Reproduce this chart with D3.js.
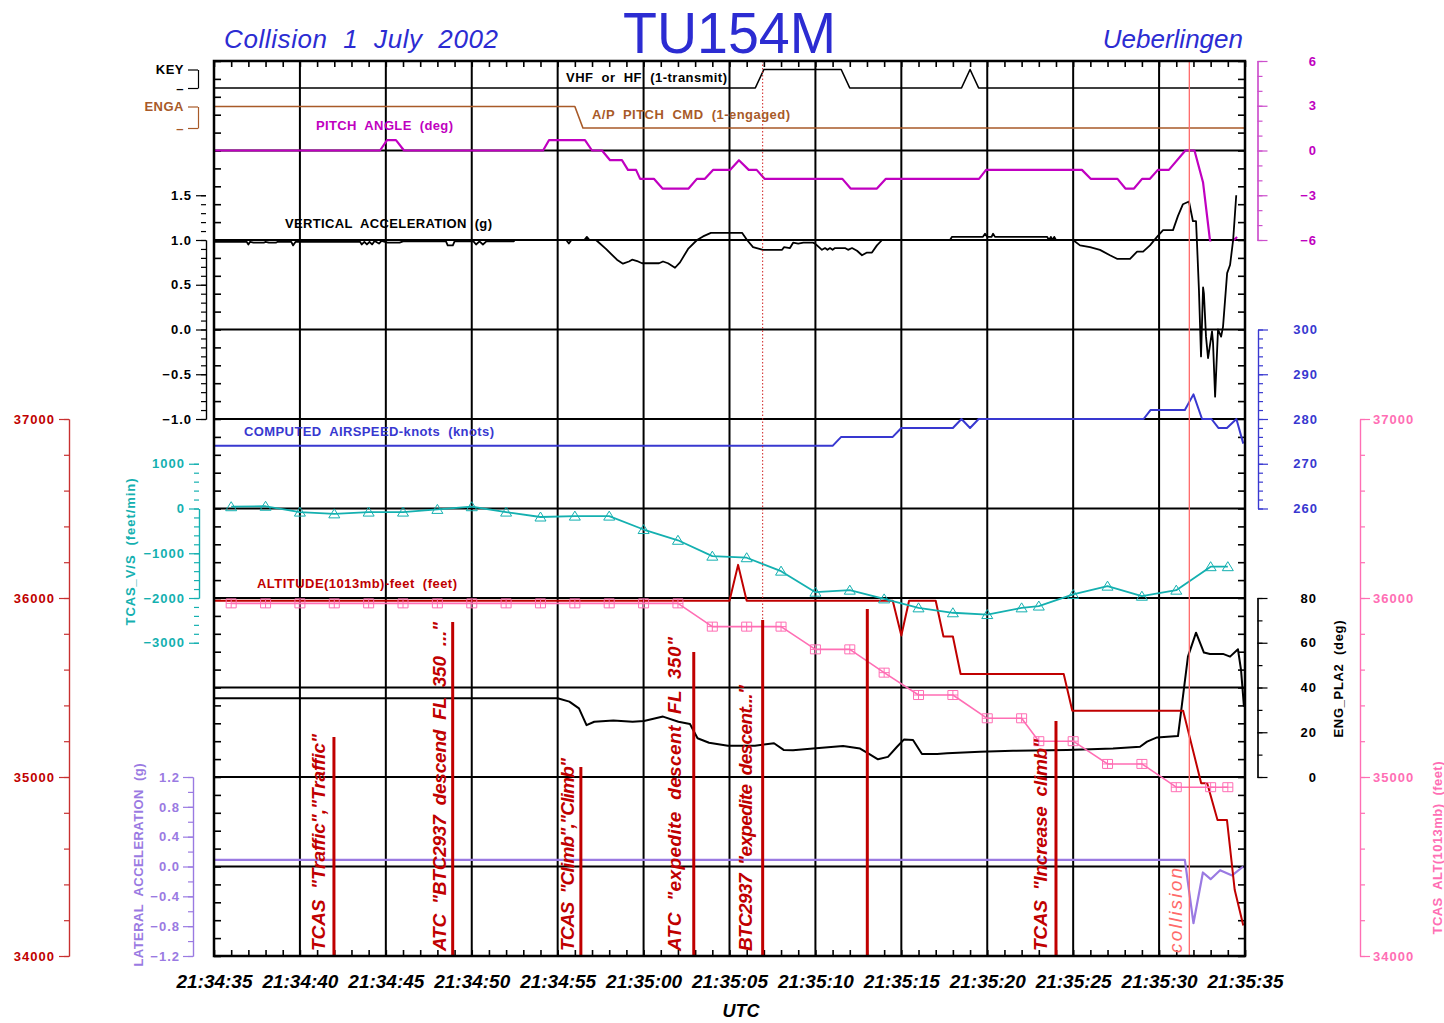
<!DOCTYPE html>
<html><head><meta charset="utf-8">
<script src="https://cdn.jsdelivr.net/npm/d3@7/dist/d3.min.js"></script>
<style>
html,body{margin:0;padding:0;background:#fff}
svg{display:block}
text{font-family:"Liberation Sans",Arial,Helvetica,sans-serif;white-space:pre}
</style></head><body>
<svg id="chart" width="1444" height="1023"></svg>
<script>
// ================= DATA =================
// time in seconds after 21:34:35 UTC
const timeTicks  = [0,5,10,15,20,25,30,35,40,45,50,55,60];
const timeLabels = ["21:34:35","21:34:40","21:34:45","21:34:50","21:34:55","21:35:00","21:35:05",
                    "21:35:10","21:35:15","21:35:20","21:35:25","21:35:30","21:35:35"];

// VHF or HF transmit (1 = transmit)
const vhf = [[0,0],[31.5,0],[32.0,1],[36.5,1],[37.0,0],[43.5,0],[44.0,1],[44.5,0],[60,0]];
// A/P pitch command (1 = engaged)
const apCmd = [[0,1],[21.0,1],[21.47,0],[60,0]];
// pitch angle (deg)
const pitch = [[0,0],[9.66,0],[10.07,0.7],[10.59,0.7],[11.06,0],[19.15,0],[19.5,0.7],[21.59,0.7],[22.0,0],
  [22.58,0],[23.05,-0.65],[23.74,-0.65],[24.09,-1.3],[24.56,-1.3],[24.8,-1.9],[25.6,-1.9],[26.1,-2.55],
  [27.62,-2.55],[28.1,-1.9],[28.57,-1.9],[29.04,-1.3],[30.03,-1.3],[30.55,-0.65],[31.12,-1.3],[31.58,-1.3],
  [32.04,-1.9],[36.57,-1.9],[37.05,-2.55],[38.58,-2.55],[39.1,-1.9],[44.52,-1.9],[44.93,-1.3],[50.51,-1.3],
  [51.02,-1.9],[52.58,-1.9],[53.04,-2.55],[53.54,-2.55],[54.01,-1.9],[54.47,-1.9],[54.93,-1.3],[55.57,-1.3],
  [56.53,0],[57.06,0],[57.56,-2.15],[57.96,-6],[58.6,-9],[59.3,-6.05],[59.54,-5.8]];
// vertical acceleration (g)
const vertAcc = [[0,0.98],[1.9,0.98],[2.0,0.95],[2.1,0.98],[2.3,0.97],[2.9,0.97],[3.0,0.98],[3.2,0.97],[3.6,0.97],
  [3.7,0.98],[4.5,0.98],[4.6,0.94],[4.75,0.98],[8.5,0.98],[8.6,0.95],[8.75,0.98],[8.9,0.95],[9.05,0.98],
  [9.2,0.95],[9.35,0.99],[9.6,0.96],[9.75,0.99],[10.1,0.97],[10.8,0.97],[11.0,0.985],[13.5,0.985],[13.6,0.94],
  [13.9,0.94],[14.0,0.985],[15.1,0.985],[15.25,0.95],[15.45,0.985],[15.65,0.95],[15.85,0.985],[17.45,0.985],
  [17.5,1.0],[20.5,1.0],[20.65,0.96],[20.8,1.0],[21.55,1.0],[21.7,1.035],[21.85,1.0],[22.23,1.0],[22.81,0.90],
  [23.45,0.78],[23.8,0.735],[24.15,0.76],[24.33,0.78],[24.68,0.76],[24.91,0.74],[25.9,0.74],[26.13,0.76],
  [26.42,0.74],[26.83,0.69],[27.12,0.75],[27.59,0.9],[28.11,1.0],[28.46,1.04],[28.92,1.08],[30.73,1.08],
  [31.02,1.0],[31.37,0.92],[31.95,0.89],[33.06,0.89],[33.17,0.92],[33.52,0.91],[33.7,0.97],[34.0,0.96],
  [34.3,0.97],[34.86,0.97],[34.98,0.96],[35.38,0.89],[35.56,0.91],[35.7,0.89],[35.85,0.91],[36.0,0.89],
  [36.14,0.91],[36.72,0.91],[36.9,0.89],[37.13,0.91],[37.42,0.88],[37.71,0.83],[38.0,0.86],[38.29,0.86],
  [38.58,0.94],[38.88,1.0],[42.83,1.0],[42.95,1.035],[44.75,1.035],[44.87,1.07],[45.0,1.035],[45.25,1.035],
  [45.34,1.07],[45.45,1.035],[48.48,1.035],[48.6,1.0],[48.7,1.035],[48.8,1.0],[48.9,1.035],[49.0,1.0],
  [49.99,1.0],[50.4,0.94],[50.98,0.92],[51.56,0.89],[52.14,0.83],[52.55,0.79],[53.31,0.79],[53.72,0.87],
  [54.07,0.87],[54.47,0.94],[54.88,1.035],[55.23,1.11],[55.81,1.11],[56.1,1.27],[56.39,1.40],[56.74,1.43],
  [56.97,1.21],[57.15,1.21],[57.21,0.95],[57.32,0.44],[57.44,-0.3],[57.56,0.47],[57.61,0.40],[57.73,-0.08],
  [57.85,-0.32],[58.08,-0.02],[58.14,-0.15],[58.26,-0.75],[58.43,0.0],[58.61,-0.08],[58.72,0.03],[58.96,0.63],
  [59.13,0.72],[59.31,1.0],[59.49,1.5]];
// computed airspeed (knots)
const airspeed = [[0,274],[36.0,274],[36.5,276],[39.5,276],[40.0,278],[43.0,278],[43.5,280],[44.0,278],
  [44.5,280],[54.1,280],[54.5,282],[56.5,282],[57.0,285.5],[57.5,280],[58.05,280],[58.45,278],[58.95,278],
  [59.5,280],[59.9,274.5]];
// TCAS samples
const tcasT   = [1,3,5,7,9,11,13,15,17,19,21,23,25,27,29,31,33,35,37,39,41,43,45,47,48,50,52,54,56,58,59];
const tcasVS  = [40,50,-80,-120,-80,-80,-20,40,-80,-190,-170,-170,-470,-710,-1065,-1100,-1400,-1870,-1825,
                 -2020,-2220,-2330,-2370,-2220,-2180,-1920,-1735,-1960,-1825,-1300,-1300];
const tcasAlt = [35970,35970,35970,35970,35970,35970,35970,35970,35970,35970,35970,35970,35970,35970,
                 35840,35840,35840,35713,35713,35583,35458,35458,35328,35328,35200,35200,35073,35073,
                 34943,34943,34943];
// altitude 1013mb (feet)
const altitude = [[0,35985],[30.0,35985],[30.5,36185],[31.0,35985],[39.5,35985],[40.0,35790],[40.45,35985],
  [42.0,35985],[42.45,35785],[43.0,35785],[43.45,35575],[49.45,35575],[49.95,35370],[56.4,35370],
  [57.45,34965],[57.8,34965],[58.4,34760],[58.95,34760],[59.4,34370],[59.9,34170]];
// engine power lever angle 2 (deg)
const engPla2 = [[0,35.2],[20.0,35.2],[20.68,33.7],[21.24,30.7],[21.68,23.2],[22.13,24.7],[23.24,25.2],
  [24.36,24.7],[25.02,25.0],[26.13,27.0],[27.03,24.7],[27.7,23.7],[28.14,17.3],[28.81,15.3],[29.91,14.0],
  [31.48,14.0],[32.59,15.1],[33.15,12.1],[33.7,12.0],[34.86,12.7],[36.61,13.9],[37.6,12.7],[38.07,10.6],
  [38.64,7.9],[39.22,9.0],[39.75,13.5],[40.16,16.8],[40.68,16.5],[41.2,10.3],[42.08,10.3],[42.66,10.6],
  [44.58,11.3],[46.5,11.7],[49.64,12.1],[52.32,12.7],[53.89,13.5],[54.3,15.8],[54.88,17.7],[56.1,18.3],
  [56.68,53.8],[57.15,64.5],[57.61,55.6],[57.96,55.0],[58.72,55.0],[59.13,53.8],[59.59,57.1],[59.77,47.8],
  [59.94,31.4]];
// lateral acceleration (g)
const latAcc = [[0,0.09],[56.5,0.09],[57.0,-0.76],[57.55,-0.08],[58.0,-0.17],[58.55,-0.05],[59.25,-0.12],[59.9,0.0]];

// events (cockpit voice / TCAS) 
const eventTimes  = [6.98, 13.89, 21.35, 27.92, 31.93, 38.02, 49.0];
const eventLabels = ['TCAS  "Traffic","Traffic"', 'ATC  "BTC2937  descend  FL  350  ..."', 'TCAS  "Climb","Climb"',
                     'ATC  "expedite  descent  FL  350"', 'BTC2937  "expedite  descent..."', '', 'TCAS  "Increase  climb"'];
const eventLabelTimes = [6.46, 13.5, 20.95, 27.18, 31.31, 0, 48.48];
const collisionTime = 56.76;
const collisionLabelTime = 56.33;

// ================= LAYOUT =================
const eventBarTop = [737, 622, 767, 652, 620, 609, 721];
const eventLabelLen = [217, 329, 193, 314, 266, 0, 212];

const C = {
  title:"#2c2cd2", pitch:"#c000c0", pitchAx:"#cc4fcc", ap:"#a85a28", as:"#3838d0", vs:"#14b0b0",
  alt:"#c00000", altAx:"#c83030", tcas:"#ff6eb4", lat:"#9a7ae2", ann:"#c00000", coll:"#ff6a6a"
};

const X0=214, X1=1245, Y0=61, Y1=956;
const svg = d3.select("#chart");
const x   = d3.scaleLinear().domain([0,60]).range([X0,X1]);
const row = d3.scaleLinear().domain([0,10]).range([Y0,Y1]);
const yVhf  = d3.scaleLinear().domain([0,1]).range([88,69.5]);
const yAp   = d3.scaleLinear().domain([0,1]).range([128,106.5]);
const yPitch= d3.scaleLinear().domain([-6,6]).range([row(2),row(0)]);
const yVA   = d3.scaleLinear().domain([-1,1]).range([row(4),row(2)]);
const yAS   = d3.scaleLinear().domain([260,300]).range([row(5),row(3)]);
const yVS   = d3.scaleLinear().domain([-2000,0]).range([row(6),row(5)]);
const yAlt  = d3.scaleLinear().domain([34000,37000]).range([row(10),row(4)]);
const yEng  = d3.scaleLinear().domain([0,80]).range([row(8),row(6)]);
const yLat  = d3.scaleLinear().domain([-1.2,1.2]).range([row(10),row(8)]);

// ---------- grid ----------
const grid = svg.append("g");
grid.selectAll("line.gv").data(timeTicks.slice(1,-1)).join("line").attr("class","gv")
  .attr("x1",d=>x(d)).attr("x2",d=>x(d)).attr("y1",Y0).attr("y2",Y1)
  .attr("stroke","#000").attr("stroke-width",2);
grid.selectAll("line.gh").data(d3.range(1,10)).join("line").attr("class","gh")
  .attr("x1",X0).attr("x2",X1).attr("y1",d=>row(d)).attr("y2",d=>row(d))
  .attr("stroke","#000").attr("stroke-width",2);

// frame ticks
function strip(g){ g.select(".domain").remove(); g.selectAll("line").attr("stroke","#000").attr("stroke-width",1.6); }
svg.append("g").attr("transform",`translate(0,${Y0})`).call(d3.axisBottom(x).ticks(60).tickSize(6).tickFormat("")).call(strip);
svg.append("g").attr("transform",`translate(0,${Y1})`).call(d3.axisTop(x).ticks(60).tickSize(6).tickFormat("")).call(strip);
svg.append("g").attr("transform",`translate(${X0},0)`).call(d3.axisRight(row).ticks(50).tickSize(7).tickFormat("")).call(strip);
svg.append("g").attr("transform",`translate(${X1},0)`).call(d3.axisLeft(row).ticks(50).tickSize(7).tickFormat("")).call(strip);

// ---------- axes outside ----------
function addAxis(o){
  const g = svg.append("g").attr("transform",`translate(${o.xPos},0)`);
  const mk = o.side==="left" ? d3.axisLeft : d3.axisRight;
  if(o.minor) g.append("g").call(mk(o.scale).tickValues(o.minor).tickSize(o.minorLen||5).tickSizeOuter(0).tickFormat(""));
  g.append("g").call(mk(o.scale).tickValues(o.major).tickSize(o.majorLen||10).tickSizeOuter(0)
      .tickPadding(o.pad==null?4:o.pad).tickFormat(o.fmt));
  g.selectAll("path,line").attr("stroke",o.axColor||o.color).attr("stroke-width",1.2);
  g.selectAll("text").attr("fill",o.color).attr("font-size",o.fs||13).attr("font-weight","bold")
    .attr("letter-spacing",o.ls==null?"1px":o.ls);
  if(o.endX!=null) g.selectAll("text").attr("text-anchor","end").attr("x",o.endX-o.xPos);
  return g;
}
const f1 = d3.format(".1f"), fd = d3.format("d");
const rng = (a,b,s)=>d3.range(a,b+s/2,s).map(v=>+v.toFixed(3));

addAxis({scale:yVhf, xPos:198, side:"left", major:[0,1], fmt:d=>d?"KEY":"–", color:"#000", ls:"0.5px"});
addAxis({scale:yAp, xPos:198, side:"left", major:[0,1], fmt:d=>d?"ENGA":"–", color:C.ap, ls:"0.5px"});
addAxis({scale:yPitch, xPos:1257.5, side:"right", major:rng(-6,6,3), minor:rng(-6,6,1), fmt:fd, color:C.pitch, axColor:C.pitchAx, endX:1317});
addAxis({scale:yVA, xPos:206, side:"left", major:rng(-1,1.5,0.5), minor:rng(-1,1.5,0.1), fmt:f1, color:"#000"});
addAxis({scale:yAS, xPos:1258, side:"right", major:rng(260,300,10), minor:rng(260,300,2), fmt:fd, color:C.as, endX:1318});
addAxis({scale:yVS, xPos:199, side:"left", major:rng(-3000,1000,1000), minor:rng(-3000,1000,200), fmt:fd, color:C.vs});
addAxis({scale:yAlt, xPos:69, side:"left", major:rng(34000,37000,1000), minor:rng(34000,37000,200), fmt:fd, color:C.alt, axColor:C.altAx});
addAxis({scale:yEng, xPos:1257.5, side:"right", major:rng(0,80,20), minor:rng(0,80,10), fmt:fd, color:"#000", endX:1317});
addAxis({scale:yAlt, xPos:1360, side:"right", major:rng(34000,37000,1000), minor:rng(34000,37000,200), fmt:fd, color:C.tcas, pad:3});
addAxis({scale:yLat, xPos:193, side:"left", major:rng(-1.2,1.2,0.4), minor:rng(-1.2,1.2,0.2), fmt:f1, color:C.lat, pad:3});

// x axis labels
const xa = svg.append("g").attr("transform",`translate(0,${Y1})`)
  .call(d3.axisBottom(x).tickValues(timeTicks).tickSize(0).tickPadding(19).tickFormat((d,i)=>timeLabels[i]));
xa.select(".domain").remove();
xa.selectAll("text").attr("fill","#000").attr("font-size",18).attr("font-weight","bold").attr("font-style","italic")
  .attr("textLength",76).attr("lengthAdjust","spacingAndGlyphs");
svg.append("text").attr("x",741).attr("y",1017).attr("text-anchor","middle").attr("font-size",18)
  .attr("font-weight","bold").attr("font-style","italic").text("UTC");

// ---------- data lines ----------
const mkLine = ys => d3.line().x(d=>x(d[0])).y(d=>ys(d[1]));
svg.append("defs").append("clipPath").attr("id","pclip").append("rect")
  .attr("x",X0).attr("y",Y0).attr("width",X1-X0).attr("height",row(2)-Y0+1.5);

function path(data, ys, color, w, clip){
  const p = svg.append("path").datum(data).attr("d",mkLine(ys)).attr("fill","none")
    .attr("stroke",color).attr("stroke-width",w).attr("stroke-linejoin","round");
  if(clip) p.attr("clip-path",`url(#${clip})`);
  return p;
}
path(vhf, yVhf, "#000", 1.6);
path(apCmd, yAp, C.ap, 1.6);
path(pitch, yPitch, C.pitch, 2.2, "pclip");
path(vertAcc, yVA, "#000", 1.8);
path(airspeed, yAS, C.as, 2);
path(latAcc, yLat, C.lat, 2.2);
path(engPla2, yEng, "#000", 2);
path(altitude, yAlt, C.alt, 2);

const vsPts = tcasT.map((t,i)=>[t,tcasVS[i]]);
const taPts = tcasT.map((t,i)=>[t,tcasAlt[i]]);
path(vsPts, yVS, C.vs, 1.8);
path(taPts, yAlt, C.tcas, 1.6);
svg.append("g").selectAll("path").data(vsPts).join("path")
  .attr("d",d=>{const cx=x(d[0]), cy=yVS(d[1]); return `M${cx},${cy-5}L${cx+5.5},${cy+4}L${cx-5.5},${cy+4}Z`;})
  .attr("fill","none").attr("stroke",C.vs).attr("stroke-width",1);
svg.append("g").selectAll("path").data(taPts).join("path")
  .attr("d",d=>{const cx=x(d[0]), cy=yAlt(d[1]);
     return `M${cx-5},${cy-4.5}h10v9h-10Z M${cx},${cy-4.5}v9 M${cx-5},${cy}h10`;})
  .attr("fill","none").attr("stroke",C.tcas).attr("stroke-width",1);

// ---------- events ----------
svg.append("line").attr("x1",x(eventTimes[4])).attr("x2",x(eventTimes[4])).attr("y1",Y0).attr("y2",Y1)
  .attr("stroke","#d02020").attr("stroke-width",1).attr("stroke-dasharray","1.5,2");
svg.append("g").selectAll("line").data(eventTimes).join("line")
  .attr("x1",d=>x(d)).attr("x2",d=>x(d)).attr("y1",(d,i)=>eventBarTop[i]).attr("y2",Y1)
  .attr("stroke",C.ann).attr("stroke-width",3);
svg.append("g").selectAll("text").data(eventLabels.map((l,i)=>({l,i})).filter(d=>d.l)).join("text")
  .attr("transform",d=>`translate(${x(eventLabelTimes[d.i])},951) rotate(-90)`)
  .attr("fill",C.ann).attr("font-size",19).attr("font-weight","bold").attr("font-style","italic")
  .attr("textLength",d=>eventLabelLen[d.i]).attr("lengthAdjust","spacing").text(d=>d.l);
svg.append("line").attr("x1",x(collisionTime)).attr("x2",x(collisionTime)).attr("y1",Y0).attr("y2",Y1)
  .attr("stroke",C.coll).attr("stroke-width",1.3);
svg.append("text").attr("transform",`translate(${x(collisionLabelTime)},953) rotate(-90)`)
  .attr("fill",C.coll).attr("font-size",19).attr("font-style","italic")
  .attr("textLength",85).attr("lengthAdjust","spacing").text("collision");

// frame
svg.append("rect").attr("x",X0).attr("y",Y0).attr("width",X1-X0).attr("height",Y1-Y0)
  .attr("fill","none").attr("stroke","#000").attr("stroke-width",2.5);

// ---------- text labels ----------
const inner = [
  {t:"VHF  or  HF  (1-transmit)", x:566, y:81.5, len:161, c:"#000"},
  {t:"A/P  PITCH  CMD  (1-engaged)", x:592, y:119, len:198, c:C.ap},
  {t:"PITCH  ANGLE  (deg)", x:316, y:130, len:137, c:C.pitch},
  {t:"VERTICAL  ACCELERATION  (g)", x:285, y:228, len:207, c:"#000"},
  {t:"COMPUTED  AIRSPEED-knots  (knots)", x:244, y:436, len:250, c:C.as},
  {t:"ALTITUDE(1013mb)-feet  (feet)", x:257, y:588, len:200, c:C.alt}
];
svg.append("g").selectAll("text").data(inner).join("text")
  .attr("x",d=>d.x).attr("y",d=>d.y).attr("fill",d=>d.c).attr("font-size",13).attr("font-weight","bold")
  .attr("textLength",d=>d.len).attr("lengthAdjust","spacing").text(d=>d.t);

const rot = [
  {t:"TCAS_V/S  (feet/min)", x:135, y:552, len:147, c:C.vs},
  {t:"LATERAL  ACCELERATION  (g)", x:143, y:865, len:203, c:C.lat},
  {t:"ENG_PLA2  (deg)", x:1343, y:679, len:117, c:"#000"},
  {t:"TCAS  ALT(1013mb)  (feet)", x:1442, y:848, len:173, c:C.tcas}
];
svg.append("g").selectAll("text").data(rot).join("text")
  .attr("transform",d=>`translate(${d.x},${d.y}) rotate(-90)`).attr("text-anchor","middle")
  .attr("fill",d=>d.c).attr("font-size",13).attr("font-weight","bold")
  .attr("textLength",d=>d.len).attr("lengthAdjust","spacing").text(d=>d.t);

// titles
svg.append("text").attr("x",224).attr("y",48).attr("fill",C.title).attr("font-size",26).attr("font-style","italic")
  .attr("textLength",274).attr("lengthAdjust","spacing").text("Collision  1  July  2002");
svg.append("text").attr("x",729.5).attr("y",53).attr("text-anchor","middle").attr("fill",C.title).attr("font-size",58)
  .attr("textLength",213).attr("lengthAdjust","spacingAndGlyphs").text("TU154M");
svg.append("text").attr("x",1243).attr("y",48).attr("text-anchor","end").attr("fill",C.title).attr("font-size",26)
  .attr("font-style","italic").text("Ueberlingen");
</script>
</body></html>
